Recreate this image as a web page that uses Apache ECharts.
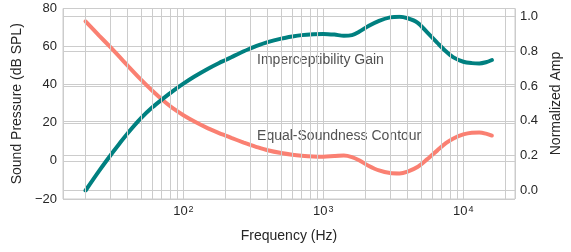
<!DOCTYPE html>
<html>
<head>
<meta charset="utf-8">
<script src="https://cdn.jsdelivr.net/npm/echarts@6/dist/echarts.min.js"></script>
<style>
  html, body { margin: 0; padding: 0; background: #fff; }
  #chart { width: 571px; height: 252px; }
</style>
</head>
<body>
<div id="chart"></div>
<script>
const freqs = [20, 25, 30, 35, 40, 50, 60, 70, 85, 100, 120, 150, 180, 200, 220, 270, 300, 330, 400,
  500, 600, 700, 850, 1000, 1200, 1400, 1600, 1800, 2100, 2500, 3000, 3500, 4000, 4700, 5500,
  6500, 7500, 8500, 10000, 11500, 13000, 14500, 16000]
// equal-loudness contour, dB SPL (left axis)
const contourDb = [73.3, 65.8, 59.8, 54.6, 50.0, 42.5, 36.8, 32.4, 27.4, 24.0, 20.7, 17.1, 14.6, 13.3, 12.1,
  9.6, 8.4, 7.4, 5.6, 4.1, 3.2, 2.7, 2.3, 2.2, 2.6, 2.8, 2.0, 0.3, -2.5, -5.0, -6.4, -6.6, -5.6,
  -3.2, 0.8, 5.4, 9.3, 11.8, 13.9, 14.8, 14.9, 14.3, 13.3]
// imperceptibility gain, normalized (right axis)
const gainAmp = [0.0, 0.113, 0.20, 0.27, 0.329, 0.417, 0.478, 0.522, 0.574, 0.614, 0.655, 0.70, 0.733, 0.75, 0.766,
  0.80, 0.816, 0.83, 0.853, 0.873, 0.885, 0.893, 0.898, 0.90, 0.896, 0.889, 0.893, 0.912, 0.945, 0.975,
  0.995, 0.999, 0.99, 0.965, 0.91, 0.85, 0.80, 0.765, 0.74, 0.732, 0.73, 0.737, 0.75]
// minor vertical grid lines
const minorFreqs = [20, 30, 40, 50, 60, 70, 80, 90, 200, 300, 400, 500, 600, 700, 800, 900,
  2000, 3000, 4000, 5000, 6000, 7000, 8000, 9000, 20000]
const leftTicks = { min: -20, max: 80, step: 20 }
const rightTicks = { min: 0, max: 1, step: 0.2 }
const annotations = [
  { text: "Imperceptibility Gain", at: [336, 53.0] },
  { text: "Equal-Soundness Contour", at: [336, 13.1] },
]

const FONT = "Liberation Sans, Arial, sans-serif"
const TEXT = "#262626"
const GRID = "#cccccc"

const chart = echarts.init(document.getElementById("chart"))

function logAxis(gridIndex, visible) {
  return {
    type: "log",
    logBase: 10,
    gridIndex,
    min: 13.8,
    max: 23400,
    show: visible,
    name: visible ? "Frequency (Hz)" : "",
    nameLocation: "middle",
    nameGap: 30,
    nameTextStyle: { color: TEXT, fontSize: 14, fontFamily: FONT },
    axisLine: { show: false },
    axisTick: { show: false },
    splitLine: { show: visible, lineStyle: { color: GRID, width: 1 } },
    axisLabel: {
      show: visible,
      showMinLabel: false,
      showMaxLabel: false,
      margin: 6,
      formatter: (v) => "{b|10}{s|" + Math.round(Math.log10(v)) + "}",
      rich: {
        b: { fontSize: 13, fontFamily: FONT, color: TEXT, verticalAlign: "bottom" },
        s: { fontSize: 9, fontFamily: FONT, color: TEXT, verticalAlign: "top", padding: [0, 0, 0, 1] },
      },
    },
  }
}

chart.setOption({
  animation: false,
  grid: [
    { left: 63, right: 56, top: 8.5, bottom: 53, show: true, borderColor: GRID, borderWidth: 1, backgroundColor: "transparent" },
    { left: 63, right: 56, top: 16.5, bottom: 61.5 },
  ],
  xAxis: [logAxis(0, true), logAxis(1, false)],
  yAxis: [
    {
      type: "value",
      gridIndex: 0,
      min: leftTicks.min,
      max: leftTicks.max,
      interval: leftTicks.step,
      name: "Sound Pressure (dB SPL)",
      nameLocation: "middle",
      nameGap: 28,
      nameTextStyle: { color: TEXT, fontSize: 14, fontFamily: FONT },
      axisLine: { show: false },
      axisTick: { show: false },
      splitLine: { lineStyle: { color: GRID, width: 1 } },
      axisLabel: {
        color: TEXT,
        fontSize: 13,
        fontFamily: FONT,
        margin: 6,
        formatter: (v) => (v < 0 ? "\u2212" + Math.abs(v) : String(v)),
      },
    },
    {
      type: "value",
      gridIndex: 1,
      position: "right",
      min: rightTicks.min,
      max: rightTicks.max,
      interval: rightTicks.step,
      name: "Normalized Amp",
      nameLocation: "middle",
      nameGap: 24,
      nameTextStyle: { color: TEXT, fontSize: 14, fontFamily: FONT },
      axisLine: { show: false },
      axisTick: { show: false },
      splitLine: { lineStyle: { color: GRID, width: 1 } },
      axisLabel: {
        color: TEXT,
        fontSize: 13,
        fontFamily: FONT,
        margin: 5,
        formatter: (v) => v.toFixed(1),
      },
    },
  ],
  series: [
    {
      type: "line",
      xAxisIndex: 0,
      yAxisIndex: 0,
      data: [],
      z: 1,
      silent: true,
      markLine: {
        silent: true,
        symbol: ["none", "none"],
        label: { show: false },
        lineStyle: { color: GRID, width: 1, type: "solid" },
        emphasis: { disabled: true },
        data: minorFreqs.map((f) => ({ xAxis: f })),
      },
    },
    {
      name: "Equal-Soundness Contour",
      type: "line",
      xAxisIndex: 0,
      yAxisIndex: 0,
      data: freqs.map((f, i) => [f, contourDb[i]]),
      smooth: 0.3,
      showSymbol: false,
      lineStyle: { color: "#fa8072", width: 4, cap: "round" },
      z: 3,
    },
    {
      name: "Imperceptibility Gain",
      type: "line",
      xAxisIndex: 1,
      yAxisIndex: 1,
      data: freqs.map((f, i) => [f, gainAmp[i]]),
      smooth: 0.3,
      showSymbol: false,
      lineStyle: { color: "#008080", width: 4, cap: "round" },
      z: 3,
    },
    {
      type: "scatter",
      xAxisIndex: 0,
      yAxisIndex: 0,
      symbolSize: 0,
      silent: true,
      z: 4,
      data: annotations.map((a) => ({ value: a.at, label: { formatter: a.text } })),
      label: {
        show: true,
        position: "right",
        distance: 0,
        color: TEXT,
        fontSize: 14,
        fontFamily: FONT,
      },
    },
  ],
})
</script>
</body>
</html>
